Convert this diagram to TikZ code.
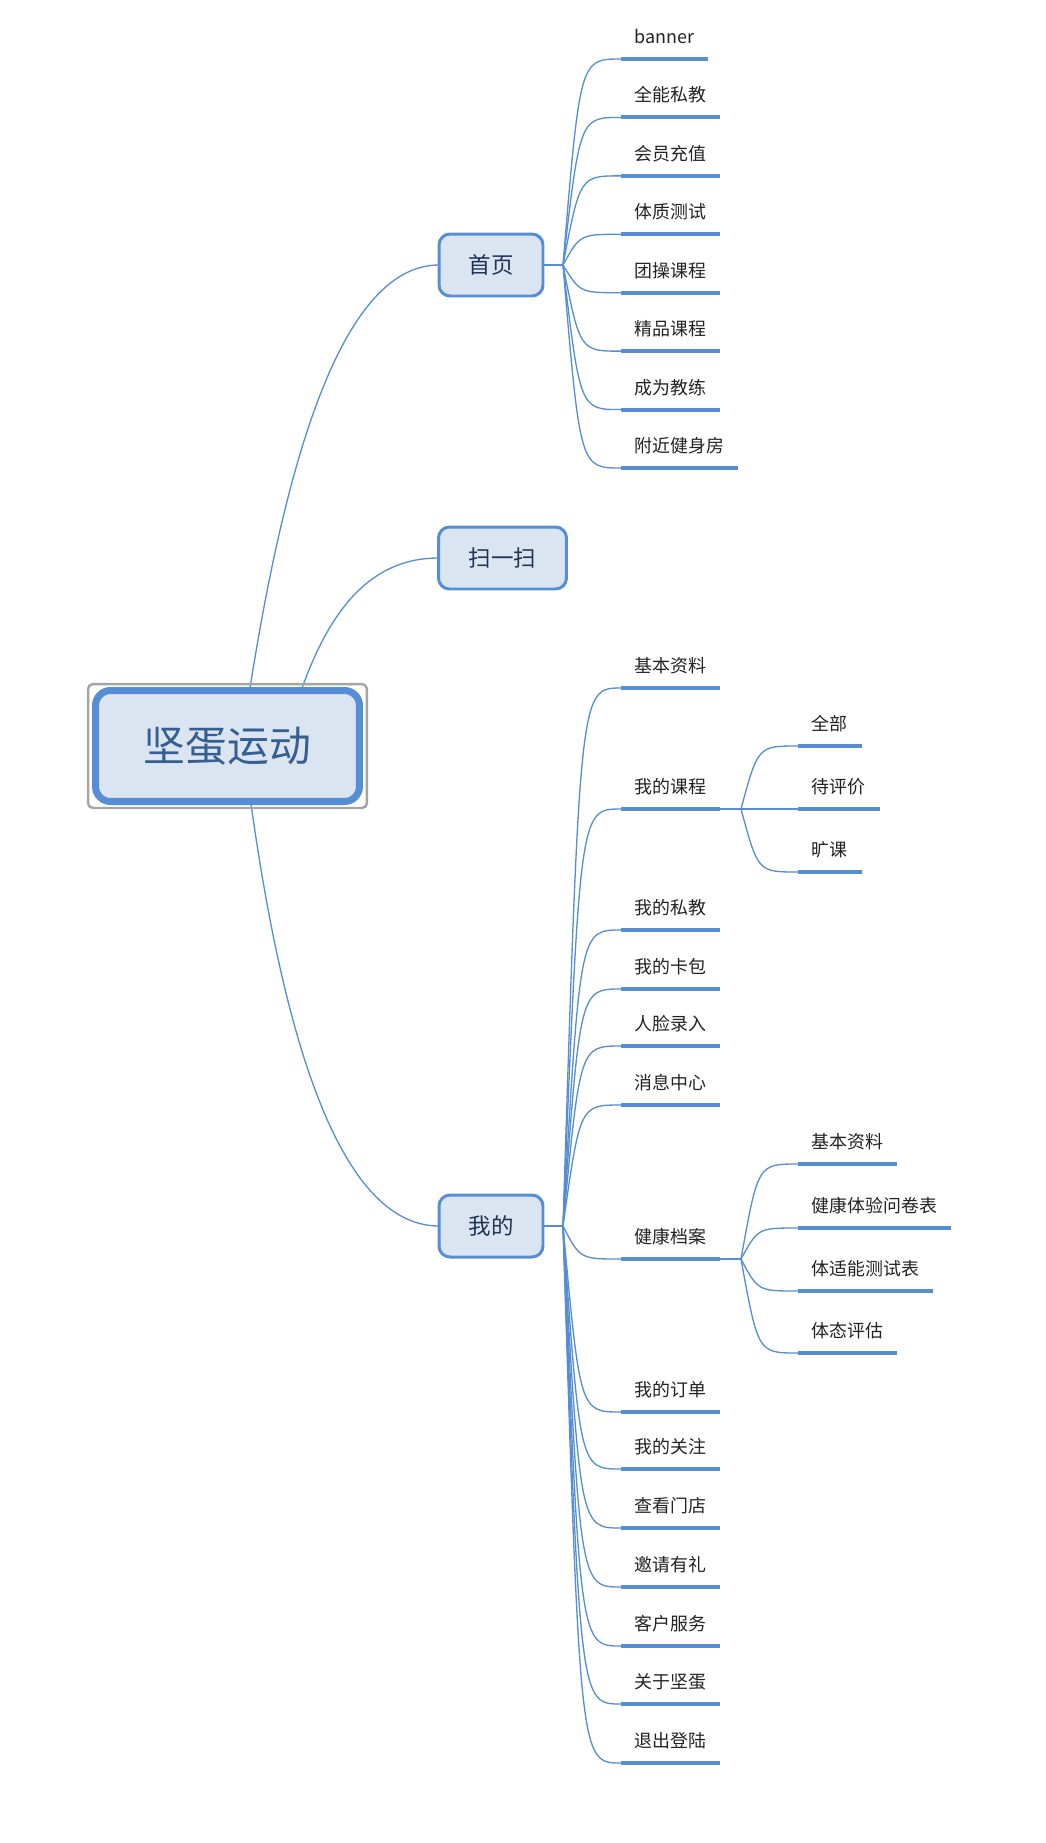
\documentclass[tikz,border=0pt]{standalone}
\usepackage{fontspec}
\setmainfont{Noto Sans CJK SC}
\usetikzlibrary{backgrounds}
\definecolor{mapblue}{RGB}{85,142,213}
\definecolor{mapfill}{RGB}{219,229,241}
\definecolor{mapgray}{RGB}{165,165,165}
\definecolor{roottext}{RGB}{54,95,145}
\definecolor{maintext}{RGB}{31,52,84}
\definecolor{leaftext}{RGB}{34,34,34}

\begin{document}
\begin{tikzpicture}[x=0.02cm,y=-0.02cm,line cap=round,line join=round,
  link/.style={mapblue,line width=0.75pt},
  uline/.style={mapblue,line width=2.3pt,line cap=butt},
  rootbox/.style={draw=mapblue,fill=mapfill,line width=4pt,rounded corners=0.3cm,
    minimum width=5.28cm,minimum height=2.22cm,outer sep=0pt,
    font=\fontsize{23.8}{26}\selectfont,text=roottext},
  mainbox/.style={draw=mapblue,fill=mapfill,line width=1.7pt,rounded corners=0.22cm,
    minimum height=1.24cm,outer sep=0pt,font=\fontsize{12.8}{15}\selectfont,text=maintext},
  leaf/.style={anchor=south west,inner xsep=7.9pt,inner ysep=8.8pt,text depth=0pt,
    outer sep=0pt,font=\fontsize{10.2}{12}\selectfont,text=leaftext}]
\useasboundingbox (0,0) rectangle (1045,1843);
% 中心主题与一级主题
\node[rootbox] (root) at (227.5,746) {坚蛋运动};
\draw[mapgray,line width=1.4pt,rounded corners=0.1cm]
 ([shift={(-7.5,-6.5)}]root.north west) rectangle ([shift={(7.5,6.5)}]root.south east);
\node[mainbox,minimum width=2.08cm] (shouye) at (491,265) {首页};
\node[mainbox,minimum width=2.56cm] (saoyisao) at (502.5,558) {扫一扫};
\node[mainbox,minimum width=2.08cm] (wode) at (491,1226) {我的};
\coordinate (r1) at (250,688);
\coordinate (r2) at (302,688);
\coordinate (r3) at (251,804);
\begin{scope}[on background layer]
\draw[link] (r1) to[out=81,in=180,out looseness=1.17,in looseness=0.56] (shouye.west);
\draw[link] (r2) to[out=70,in=180] (saoyisao.west);
\draw[link] (r3) to[out=-82,in=180,out looseness=1.1,in looseness=0.6] (wode.west);
\end{scope}
% 首页的分支
\coordinate (hubsy) at (563,265);
\coordinate (ctlsy) at (580,265);
\draw[link] (shouye.east) -- (hubsy);
\foreach \lab [count=\i] in {banner,全能私教,会员充值,体质测试,团操课程,精品课程,成为教练,附近健身房}{
  \node[leaf] (sy\i) at (621,{59+58.43*(\i-1)}) {\lab};
  \draw[uline] (sy\i.south west) -- (sy\i.south east);
  \draw[link] (hubsy) .. controls (ctlsy |- sy\i.south west) .. (sy\i.south west);
}
% 我的的分支
\coordinate (hubwd) at (563,1226);
\coordinate (ctlwd) at (580,1226);
\draw[link] (wode.east) -- (hubwd);
\foreach \y/\lab [count=\i] in {688/基本资料,809/我的课程,930/我的私教,989/我的卡包,
  1046/人脸录入,1105/消息中心,1259/健康档案,1412/我的订单,1469/我的关注,
  1528/查看门店,1587/邀请有礼,1646/客户服务,1704/关于坚蛋,1763/退出登陆}{
  \node[leaf] (wd\i) at (621,\y) {\lab};
  \draw[uline] (wd\i.south west) -- (wd\i.south east);
  \draw[link] (hubwd) .. controls (ctlwd |- wd\i.south west) .. (wd\i.south west);
}
% 我的课程
\coordinate (hubkc) at (741,809);
\coordinate (ctlkc) at (758,809);
\draw[link] (wd2.south east) -- (hubkc);
\foreach \y/\lab [count=\i] in {746/全部,809/待评价,872/旷课}{
  \node[leaf] (kc\i) at (798,\y) {\lab};
  \draw[uline] (kc\i.south west) -- (kc\i.south east);
  \draw[link] (hubkc) .. controls (ctlkc |- kc\i.south west) .. (kc\i.south west);
}
% 健康档案
\coordinate (hubda) at (741,1259);
\coordinate (ctlda) at (758,1259);
\draw[link] (wd7.south east) -- (hubda);
\foreach \y/\lab [count=\i] in {1164/基本资料,1228/健康体验问卷表,1291/体适能测试表,1353/体态评估}{
  \node[leaf] (da\i) at (798,\y) {\lab};
  \draw[uline] (da\i.south west) -- (da\i.south east);
  \draw[link] (hubda) .. controls (ctlda |- da\i.south west) .. (da\i.south west);
}
\end{tikzpicture}
\end{document}
